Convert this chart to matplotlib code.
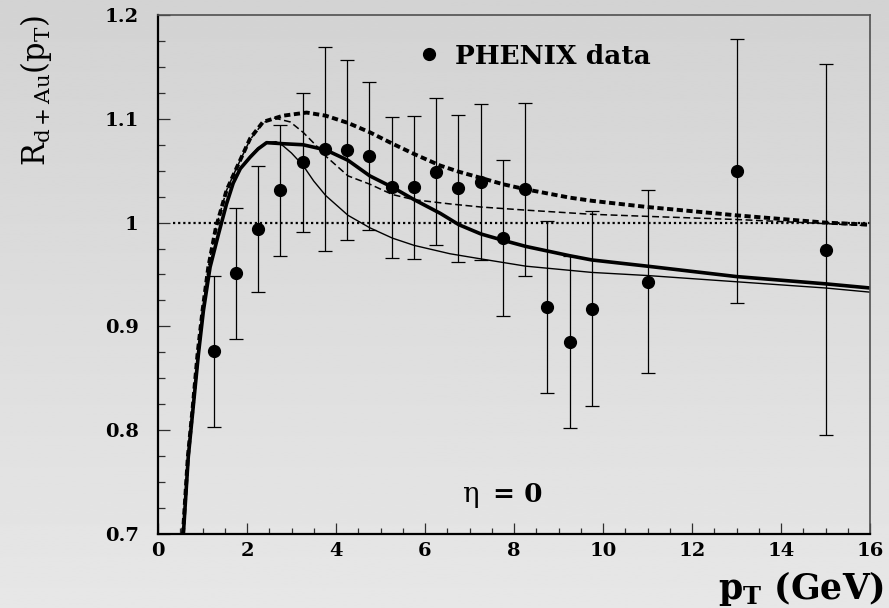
import numpy as np
import matplotlib
matplotlib.use("Agg")
import matplotlib.pyplot as plt
from matplotlib.lines import Line2D
from matplotlib.ticker import MultipleLocator, FixedLocator, FixedFormatter

# ---------------- data ----------------
pt_x = [1.25, 1.75, 2.25, 2.75, 3.25, 3.75, 4.25, 4.75, 5.25, 5.75, 6.25,
        6.75, 7.25, 7.75, 8.25, 8.75, 9.25, 9.75, 11.0, 13.0, 15.0]
pt_y = [0.876, 0.951, 0.994, 1.031, 1.058, 1.071, 1.070, 1.064, 1.034, 1.034, 1.049,
        1.033, 1.039, 0.985, 1.032, 0.919, 0.885, 0.917, 0.943, 1.050, 0.974]
pt_err = [0.073, 0.063, 0.061, 0.063, 0.067, 0.098, 0.087, 0.071, 0.068, 0.069, 0.071,
          0.071, 0.075, 0.075, 0.083, 0.083, 0.083, 0.094, 0.088, 0.127, 0.179]

thick_solid_x = [0.57, 0.68, 0.79, 0.91, 1.02, 1.17, 1.36, 1.54, 1.69, 1.85, 2.07, 2.25,
                 2.44, 2.81, 3.26, 3.77, 4.27, 4.76, 5.27, 5.76, 6.34, 6.76, 7.26, 7.75,
                 8.27, 9.26, 9.75, 11.0, 13.0, 15.0, 16.0]
thick_solid_y = [0.700, 0.774, 0.822, 0.874, 0.915, 0.957, 0.989, 1.018, 1.038, 1.052, 1.063, 1.071,
                 1.077, 1.076, 1.075, 1.070, 1.060, 1.045, 1.034, 1.022, 1.009, 0.998, 0.989, 0.983,
                 0.977, 0.968, 0.964, 0.958, 0.948, 0.941, 0.937]

thin_solid_x = [0.57, 0.68, 0.79, 0.91, 1.02, 1.17, 1.36, 1.54, 1.69, 1.85, 2.07, 2.25,
                2.44, 2.65, 2.81, 3.0, 3.26, 3.5, 3.77, 4.27, 4.76, 5.27, 5.76, 6.56,
                7.26, 8.27, 9.75, 11.0, 13.0, 15.0, 16.0]
thin_solid_y = [0.700, 0.774, 0.822, 0.874, 0.915, 0.957, 0.989, 1.018, 1.038, 1.052, 1.064, 1.072,
                1.077, 1.078, 1.074, 1.067, 1.055, 1.040, 1.026, 1.007, 0.995, 0.985, 0.978, 0.970,
                0.965, 0.958, 0.952, 0.949, 0.943, 0.937, 0.933]

thick_dash_x = [0.56, 0.67, 0.78, 0.89, 1.0, 1.13, 1.30, 1.54, 1.77, 2.07, 2.36, 2.81,
                3.34, 3.77, 4.27, 4.76, 5.27, 5.76, 6.34, 6.76, 7.26, 7.75, 8.27, 9.26,
                9.75, 11.0, 13.0, 15.0, 16.0]
thick_dash_y = [0.700, 0.774, 0.822, 0.874, 0.915, 0.957, 0.995, 1.031, 1.053, 1.081, 1.097, 1.103,
                1.106, 1.103, 1.096, 1.087, 1.076, 1.066, 1.055, 1.049, 1.043, 1.037, 1.032, 1.024,
                1.021, 1.015, 1.007, 1.000, 0.998]

thin_dash_x = [0.56, 0.67, 0.78, 0.89, 1.0, 1.13, 1.30, 1.54, 1.77, 2.07, 2.36, 2.59,
               2.97, 3.26, 3.56, 3.77, 4.27, 4.76, 5.27, 5.76, 6.56, 7.26, 8.27, 9.75,
               11.0, 13.0, 15.0, 16.0]
thin_dash_y = [0.700, 0.774, 0.822, 0.874, 0.915, 0.957, 0.995, 1.031, 1.053, 1.080, 1.096, 1.101,
               1.097, 1.087, 1.074, 1.064, 1.045, 1.037, 1.027, 1.022, 1.018, 1.015, 1.012, 1.008,
               1.006, 1.003, 0.999, 0.997]

unity_x = [0.33, 16.0]
unity_y = [1.0, 1.0]

x_ticks = [0, 2, 4, 6, 8, 10, 12, 14, 16]
x_ticklabels = ["0", "2", "4", "6", "8", "10", "12", "14", "16"]
y_ticks = [0.7, 0.8, 0.9, 1.0, 1.1, 1.2]
y_ticklabels = ["0.7", "0.8", "0.9", "1", "1.1", "1.2"]

legend_label = "PHENIX data"
annot_eta = "\u03b7"
annot_val = "= 0"
xlabel = r"$\mathbf{p_T}$ (GeV)"
ylabel = r"$\mathrm{R_{d+Au}(p_T)}$"

# ---------------- style ----------------
SERIF = "DejaVu Serif"
plt.rcParams["font.family"] = [SERIF, "DejaVu Sans"]
plt.rcParams["mathtext.fontset"] = "custom"
plt.rcParams["mathtext.rm"] = SERIF
plt.rcParams["mathtext.bf"] = SERIF + ":bold"
plt.rcParams["mathtext.it"] = SERIF + ":italic"

W, H = 889, 608
fig = plt.figure(figsize=(W / 100, H / 100), dpi=100)

# background gradient
bg = fig.add_axes([0, 0, 1, 1], zorder=-5)
grad = np.linspace(0.827, 0.905, 256).reshape(-1, 1)
bg.imshow(grad, aspect="auto", cmap="gray", vmin=0, vmax=1, extent=[0, 1, 0, 1], origin="upper")
bg.set_axis_off()

L, R, B, T = 158, 870, 534, 15
ax = fig.add_axes([L / W, 1 - B / H, (R - L) / W, (B - T) / H])
ax.set_facecolor("none")
ax.set_xlim(0, 16)
ax.set_ylim(0.7, 1.2)

ax.plot(unity_x, unity_y, color="black", lw=1.6, dashes=(1.0, 1.3), zorder=2)
ax.plot(thin_dash_x, thin_dash_y, color="black", lw=1.1, dashes=(4.5, 2.3), zorder=2)
ax.plot(thick_dash_x, thick_dash_y, color="black", lw=2.8, dashes=(1.6, 0.9), zorder=2)
ax.plot(thin_solid_x, thin_solid_y, color="black", lw=1.0, zorder=2)
ax.plot(thick_solid_x, thick_solid_y, color="black", lw=2.6, zorder=2,
        solid_capstyle="butt")

ax.errorbar(pt_x, pt_y, yerr=pt_err, fmt="o", color="black", ms=8.5,
            elinewidth=0.9, capsize=4.8, capthick=0.9, zorder=3)

# axes frame
for s in ["left", "bottom"]:
    ax.spines[s].set_linewidth(1.6)
    ax.spines[s].set_color("black")
for s in ["top", "right"]:
    ax.spines[s].set_linewidth(1.2)
    ax.spines[s].set_color("#505050")

ax.xaxis.set_major_locator(FixedLocator(x_ticks))
ax.xaxis.set_major_formatter(FixedFormatter(x_ticklabels))
ax.xaxis.set_minor_locator(MultipleLocator(0.5))
ax.yaxis.set_major_locator(FixedLocator(y_ticks))
ax.yaxis.set_major_formatter(FixedFormatter(y_ticklabels))
ax.yaxis.set_minor_locator(MultipleLocator(0.025))

ax.tick_params(axis="x", which="major", direction="in", length=8, width=0.9,
               color="#303030", pad=5.5, labelsize=14)
ax.tick_params(axis="x", which="minor", direction="in", length=4, width=0.9, color="#303030")
ax.tick_params(axis="y", which="major", direction="in", length=8.5, width=0.9,
               color="#303030", pad=14, labelsize=14)
ax.tick_params(axis="y", which="minor", direction="in", length=5, width=0.9, color="#303030")
ax.tick_params(top=False, right=False, which="both")
for lab in ax.get_xticklabels() + ax.get_yticklabels():
    lab.set_fontweight("bold")
    lab.set_family(SERIF)

# legend
handle = Line2D([], [], marker="o", ls="none", color="black", ms=8.5)
ax.legend([handle], [legend_label], loc="center left",
          bbox_to_anchor=(417 / W, 1 - 56 / H), bbox_transform=fig.transFigure,
          frameon=False, handlelength=0.9, handletextpad=0.55, borderpad=0, borderaxespad=0,
          prop={"family": SERIF, "weight": "bold", "size": 19})

# annotation
ax.text(6.83, 0.7385, annot_eta, ha="left", va="center", fontsize=20, family=SERIF)
ax.text(7.52, 0.7385, annot_val, ha="left", va="center", fontsize=19, family=SERIF,
        fontweight="bold")

# axis labels
fig.text(36 / W, 1 - 90 / H, ylabel, rotation=90, ha="center", va="center", fontsize=22)
fig.text(884 / W, 1 - 588 / H, xlabel, ha="right", va="center", fontsize=25,
         fontweight="bold", family=SERIF)

fig.savefig("out.png", dpi=100)
